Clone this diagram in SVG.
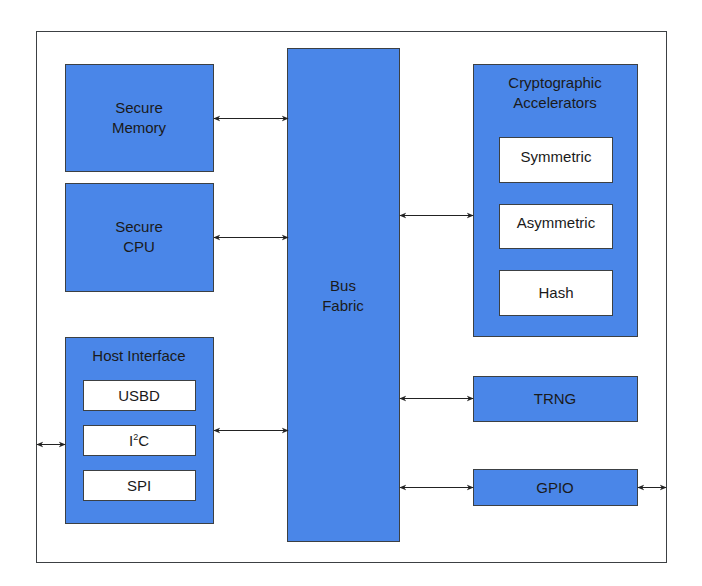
<svg xmlns="http://www.w3.org/2000/svg" width="702" height="586" viewBox="0 0 702 586">
<style>
.b{fill:#4a86e8;stroke:#3c4043;stroke-width:1}
.w{fill:#fff;stroke:#3c4043;stroke-width:1}
text{font-family:"Liberation Sans",Arial,sans-serif;font-size:15px;fill:#1a1a1a;text-anchor:middle}
.c line{stroke:#222;stroke-width:1;marker-start:url(#a);marker-end:url(#a)}
</style>
<defs><marker id="a" viewBox="0 0 10 10" refX="9" refY="5" markerWidth="7" markerHeight="7" orient="auto-start-reverse" markerUnits="userSpaceOnUse"><path d="M0,1 L10,5 L0,9 L3,5 Z" fill="#222"/></marker></defs>
<rect x="0" y="0" width="702" height="586" fill="#fff"/>
<rect x="36.500" y="31.500" width="630" height="531" fill="none" stroke="#3c4043"/>
<g id="mem"><rect class="b" x="65.500" y="64.500" width="148" height="107"/><text x="139" y="113">Secure</text><text x="139" y="133">Memory</text></g>
<g id="cpu"><rect class="b" x="65.500" y="183.500" width="148" height="108"/><text x="139" y="232">Secure</text><text x="139" y="252">CPU</text></g>
<g id="host"><rect class="b" x="65.500" y="337.500" width="148" height="186"/><text x="139" y="361">Host Interface</text>
<rect class="w" x="83.500" y="380.500" width="112" height="30"/><text x="139" y="401">USBD</text>
<rect class="w" x="83.500" y="425.500" width="112" height="30"/><text x="139" y="446">I<tspan font-size="9" dy="-6">2</tspan><tspan dy="6">C</tspan></text>
<rect class="w" x="83.500" y="470.500" width="112" height="30"/><text x="139" y="491">SPI</text></g>
<g id="bus"><rect class="b" x="287.500" y="48.500" width="112" height="493"/><text x="343" y="291">Bus</text><text x="343" y="311">Fabric</text></g>
<g id="crypto"><rect class="b" x="473.500" y="64.500" width="164" height="272"/><text x="555" y="88">Cryptographic</text><text x="555" y="108">Accelerators</text>
<rect class="w" x="499.500" y="137.500" width="113" height="45"/><text x="556" y="162">Symmetric</text>
<rect class="w" x="499.500" y="204.500" width="113" height="44"/><text x="556" y="228">Asymmetric</text>
<rect class="w" x="499.500" y="270.500" width="113" height="45"/><text x="556" y="298">Hash</text></g>
<g id="trng"><rect class="b" x="473.500" y="376.500" width="164" height="45"/><text x="555" y="404">TRNG</text></g>
<g id="gpio"><rect class="b" x="473.500" y="469.500" width="164" height="36"/><text x="555" y="493">GPIO</text></g>
<g class="c">
<line x1="214" y1="118.500" x2="288" y2="118.500"/>
<line x1="214" y1="237.500" x2="288" y2="237.500"/>
<line x1="214" y1="430.500" x2="288" y2="430.500"/>
<line x1="400" y1="215.500" x2="473" y2="215.500"/>
<line x1="400" y1="398.500" x2="473" y2="398.500"/>
<line x1="400" y1="487.500" x2="473" y2="487.500"/>
<line x1="37" y1="444.500" x2="65" y2="444.500"/>
<line x1="638" y1="487.500" x2="666" y2="487.500"/>
</g>
</svg>
